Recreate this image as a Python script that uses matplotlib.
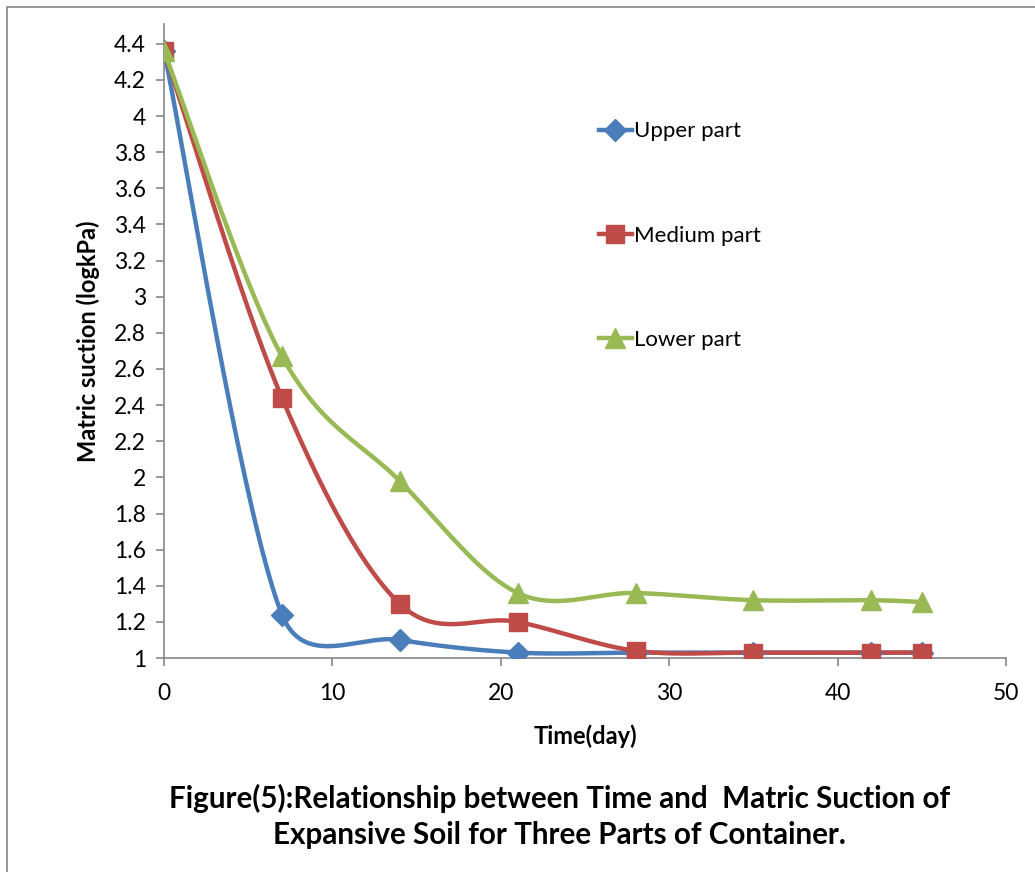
import numpy as np
import matplotlib
matplotlib.use("Agg")
from matplotlib import pyplot as plt
from matplotlib.patches import Rectangle

# -- data ---------------------------------------------------------------
days = [0, 7, 14, 21, 28, 35, 42, 45]
upper = [4.36, 1.24, 1.10, 1.03, 1.03, 1.03, 1.03, 1.03]
medium = [4.36, 2.44, 1.30, 1.20, 1.04, 1.03, 1.03, 1.03]
lower = [4.36, 2.67, 1.98, 1.36, 1.36, 1.32, 1.32, 1.31]

series_names = ["Upper part", "Medium part", "Lower part"]
x_ticks = [0, 10, 20, 30, 40, 50]
y_ticks = [1, 1.2, 1.4, 1.6, 1.8, 2, 2.2, 2.4, 2.6, 2.8, 3, 3.2, 3.4, 3.6, 3.8, 4, 4.2, 4.4]


def smooth(ax, xs, ys, n=40):
    """Spreadsheet-style smoothed line, built in screen space.

    Bezier segments with Catmull-Rom tangents (1/6), arms shortened to half
    the segment length where neighbouring points are far away.
    """
    p = ax.transData.transform(np.column_stack([xs, ys]).astype(float))
    p = np.vstack([p[0], p, p[-1]])
    t = np.linspace(0, 1, n)[:, None]
    out = []
    for i in range(1, len(p) - 2):
        p0, p1, p2, p3 = p[i - 1], p[i], p[i + 1], p[i + 2]
        d02 = np.hypot(*(p2 - p0))
        d12 = np.hypot(*(p2 - p1))
        d13 = np.hypot(*(p3 - p1))
        f1 = f2 = 1 / 6
        if d02 / 6 >= d12 / 2 and d02 > 0:
            f1 = d12 / (2 * d02)
        if d13 / 6 >= d12 / 2 and d13 > 0:
            f2 = d12 / (2 * d13)
        c1 = p1 + (p2 - p0) * f1
        c2 = p2 - (p3 - p1) * f2
        seg = ((1 - t) ** 3) * p1 + 3 * ((1 - t) ** 2) * t * c1 \
            + 3 * (1 - t) * t ** 2 * c2 + t ** 3 * p2
        out.append(seg if i == 1 else seg[1:])
    seg = ax.transData.inverted().transform(np.vstack(out))
    return seg[:, 0], seg[:, 1]


plt.rcParams["font.family"] = ["Lato", "DejaVu Sans"]

fig = plt.figure(figsize=(10.35, 8.72), dpi=100)
ax = fig.add_axes([0.1585, 0.2454, 0.8135, 0.7271])
ax.set_xlim(0, 50)
ax.set_ylim(1, 4.51)

styles = [
    ("#4A7EBB", "D", 11),
    ("#BE4B48", "s", 13),
    ("#98B954", "^", 14),
]

for ys, name, (col, mk, ms) in zip([upper, medium, lower], series_names, styles):
    sx, sy = smooth(ax, days, ys)
    ax.plot(sx, sy, color=col, lw=3.2, solid_capstyle="round", zorder=2)
    ax.plot(days, ys, ls="none", marker=mk, ms=ms, color=col, zorder=3)
    # legend proxy: line with marker
    ax.plot([], [], color=col, lw=3.2, marker=mk, ms=ms, label=name)

ax.set_xticks(x_ticks)
ax.set_yticks(y_ticks)
ax.set_yticklabels([f"{v:g}" for v in y_ticks])

for side in ["top", "right"]:
    ax.spines[side].set_visible(False)
for side in ["left", "bottom"]:
    ax.spines[side].set_color("#868686")
    ax.spines[side].set_linewidth(1.2)
ax.tick_params(axis="both", direction="out", length=6, width=1.2,
               color="#868686", labelsize=16.5)
ax.tick_params(axis="x", pad=12)
ax.tick_params(axis="y", pad=7)

ax.set_xlabel("Time(day)", fontsize=17, fontweight="bold", labelpad=15)
ax.set_ylabel("Matric suction (logkPa)", fontsize=17, fontweight="bold", labelpad=10)

leg = ax.legend(loc="upper left", bbox_to_anchor=(0.503, 0.864), frameon=False,
                fontsize=16, labelspacing=3.8, handlelength=1.5,
                handletextpad=0.08, borderpad=0)

fig.text(0.541, 0.064, "Figure(5):Relationship between Time and  Matric Suction of\n"
         "Expansive Soil for Three Parts of Container.",
         ha="center", va="center", fontsize=21.3, fontweight="bold", linespacing=1.35)

# outer frame of the chart area
fig.patches.append(Rectangle((0.007, -0.01), 1.0, 1.002, transform=fig.transFigure,
                             fill=False, edgecolor="#868686", lw=1.2))

fig.savefig("out.png", dpi=100)
